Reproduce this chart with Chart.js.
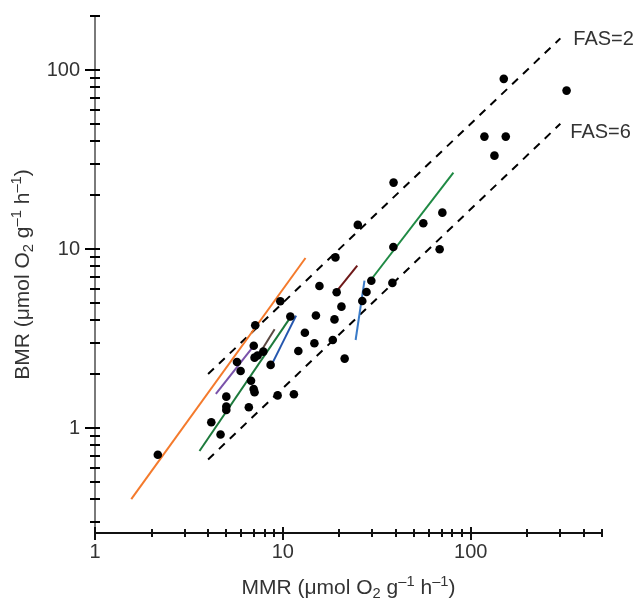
<!DOCTYPE html>
<html>
<head>
    <title>BMR vs MMR</title>
    <script src="https://cdn.jsdelivr.net/npm/chart.js"></script>
    <style>body { margin: 0; background: #fff; }</style>
</head>
<body>
    <canvas id="chart" width="634" height="599"></canvas>

    <script>
        // species values (umol O2 g-1 h-1)
        const mmr = [2.16, 4.16, 4.66, 5.0, 5.0, 5.0, 5.7, 5.96, 6.59, 6.77, 6.99, 7.07,
                     7.0, 7.13, 7.07, 7.34, 7.87, 8.61, 9.38, 11.45, 9.69, 10.96, 12.09, 13.1,
                     14.72, 15.0, 15.66, 18.44, 18.83, 19.05, 19.34, 20.51, 21.33, 26.48, 27.88, 29.58,
                     38.3, 38.75, 25.06, 38.85, 55.94, 68.35, 70.65, 118.3, 133.8, 150.0, 153.7, 323.9];
        const bmr = [0.709, 1.076, 0.92, 1.496, 1.319, 1.26, 2.337, 2.08, 1.305, 1.837, 1.652, 1.583,
                     2.88, 3.75, 2.47, 2.54, 2.67, 2.25, 1.52, 1.543, 5.1, 4.19, 2.69, 3.4,
                     2.97, 4.25, 6.21, 3.1, 4.04, 8.97, 5.73, 4.76, 2.44, 5.12, 5.75, 6.64,
                     6.46, 10.26, 13.62, 23.47, 13.92, 9.96, 15.95, 42.4, 33.2, 89.1, 42.4, 76.6];

        // FAS reference lines, BMR = MMR / FAS
        const fasMMR = [4, 300];
        const fas2BMR = [2, 150];
        const fas6BMR = [0.667, 50];
        const fasLabels = ['FAS=2', 'FAS=6'];

        // within-species fits: start/end MMR and BMR
        const segMMR = [[1.56, 13.2], [4.4, 6.85], [7.56, 9.04], [3.6, 11.2],
                        [8.76, 11.76], [19.6, 24.9], [24.4, 27.2], [29.6, 80.9]];
        const segBMR = [[0.40, 8.9], [1.55, 2.79], [2.63, 3.56], [0.744, 4.28],
                        [2.28, 4.24], [5.9, 8.07], [3.1, 6.65], [6.77, 26.7]];
        const segColors = ['#f47a2c', '#7a52aa', '#5b4841', '#1d7a3c',
                           '#2456ae', '#6e1818', '#3a7bc8', '#1f8a44'];

        // axis ticks
        const xMajor = [1, 10, 100];
        const xMinor = [2, 3, 4, 5, 6, 7, 8, 9, 20, 30, 40, 50, 60, 70, 80, 90, 200, 300, 400, 500];
        const yMajor = [1, 10, 100];
        const yMinor = [0.3, 0.4, 0.5, 0.6, 0.7, 0.8, 0.9, 2, 3, 4, 5, 6, 7, 8, 9,
                        20, 30, 40, 50, 60, 70, 80, 90, 200];

        const FONT = '"Liberation Sans", Arial, sans-serif';
        const TEXT = '#333';

        function toXY(xs, ys) {
            return xs.map((v, i) => ({ x: v, y: ys[i] }));
        }

        const datasets = [];
        [fas2BMR, fas6BMR].forEach((b, i) => {
            datasets.push({
                type: 'line', label: fasLabels[i], data: toXY(fasMMR, b),
                borderColor: '#000', borderWidth: 2, borderDash: [8, 7],
                pointRadius: 0, fill: false, order: 3
            });
        });
        segMMR.forEach((m, i) => {
            datasets.push({
                type: 'line', data: toXY(m, segBMR[i]),
                borderColor: segColors[i], borderWidth: 2,
                pointRadius: 0, fill: false, order: 2
            });
        });
        datasets.push({
            type: 'scatter', data: toXY(mmr, bmr),
            backgroundColor: '#000', borderWidth: 0, pointRadius: 4.3, order: 1
        });

        // text with sub/superscripts
        function richWidth(ctx, parts, size) {
            let w = 0;
            parts.forEach(p => {
                ctx.font = (p.s ? size * 0.7 : size) + 'px ' + FONT;
                w += ctx.measureText(p.t).width;
            });
            return w;
        }
        function drawRich(ctx, parts, size, x0, y0) {
            let x = x0;
            parts.forEach(p => {
                ctx.font = (p.s ? size * 0.7 : size) + 'px ' + FONT;
                let dy = p.s === 'sub' ? size * 0.2 : (p.s === 'sup' ? -size * 0.38 : 0);
                ctx.fillText(p.t, x, y0 + dy);
                x += ctx.measureText(p.t).width;
            });
        }
        const unitParts = [
            { t: ' (\u03bcmol O' }, { t: '2', s: 'sub' }, { t: ' g' }, { t: '\u20131', s: 'sup' },
            { t: ' h' }, { t: '\u20131', s: 'sup' }, { t: ')' }
        ];

        const axesPlugin = {
            id: 'axes',
            afterDraw(chart) {
                const ctx = chart.ctx;
                const a = chart.chartArea;
                const x = chart.scales.x, y = chart.scales.y;
                ctx.save();
                ctx.lineCap = 'butt';

                // y axis
                ctx.strokeStyle = '#7a7a7a';
                ctx.lineWidth = 2;
                ctx.beginPath(); ctx.moveTo(a.left, a.top); ctx.lineTo(a.left, a.bottom); ctx.stroke();
                ctx.strokeStyle = '#000';
                yMinor.forEach(v => {
                    const p = Math.round(y.getPixelForValue(v));
                    ctx.beginPath(); ctx.moveTo(a.left - 5, p); ctx.lineTo(a.left + 5, p); ctx.stroke();
                });
                yMajor.forEach(v => {
                    const p = Math.round(y.getPixelForValue(v));
                    ctx.beginPath(); ctx.moveTo(a.left - 10, p); ctx.lineTo(a.left + 5, p); ctx.stroke();
                });

                // x axis
                ctx.strokeStyle = '#111';
                ctx.beginPath(); ctx.moveTo(a.left, a.bottom); ctx.lineTo(a.right, a.bottom); ctx.stroke();
                xMinor.forEach(v => {
                    const p = Math.round(x.getPixelForValue(v));
                    ctx.beginPath(); ctx.moveTo(p, a.bottom - 4); ctx.lineTo(p, a.bottom + 4); ctx.stroke();
                });
                xMajor.forEach(v => {
                    const p = Math.round(x.getPixelForValue(v));
                    ctx.beginPath(); ctx.moveTo(p, a.bottom - 6); ctx.lineTo(p, a.bottom + 7); ctx.stroke();
                });

                // tick labels
                ctx.fillStyle = TEXT;
                ctx.font = '20px ' + FONT;
                ctx.textAlign = 'right';
                ctx.textBaseline = 'middle';
                yMajor.forEach(v => ctx.fillText(String(v), a.left - 15, y.getPixelForValue(v) + 1));
                ctx.textAlign = 'center';
                ctx.textBaseline = 'top';
                xMajor.forEach(v => ctx.fillText(String(v), x.getPixelForValue(v), a.bottom + 9));

                // FAS labels at the upper end of each dashed line
                ctx.textAlign = 'left';
                ctx.textBaseline = 'middle';
                [fas2BMR, fas6BMR].forEach((b, i) => {
                    const px = x.getPixelForValue(fasMMR[1]);
                    const py = y.getPixelForValue(b[1]);
                    ctx.fillText(fasLabels[i], px + 13 - i * 3, py + 1 + i * 8);
                });

                // axis titles
                ctx.textAlign = 'left';
                ctx.textBaseline = 'alphabetic';
                const xt = [{ t: 'MMR' }].concat(unitParts);
                const wx = richWidth(ctx, xt, 21);
                drawRich(ctx, xt, 21, (a.left + a.right) / 2 - wx / 2, a.bottom + 61);

                const yt = [{ t: 'BMR' }].concat(unitParts);
                const wy = richWidth(ctx, yt, 21);
                ctx.translate(a.left - 66, (a.top + a.bottom) / 2);
                ctx.rotate(-Math.PI / 2);
                drawRich(ctx, yt, 21, -wy / 2, 0);
                ctx.restore();
            }
        };

        new Chart(document.getElementById('chart'), {
            type: 'scatter',
            data: { datasets: datasets },
            options: {
                responsive: false,
                animation: false,
                layout: { padding: { left: 95, right: 32, top: 16, bottom: 66 } },
                scales: {
                    x: { type: 'logarithmic', min: 1, max: 500, display: false },
                    y: { type: 'logarithmic', min: 0.259, max: 200, display: false }
                },
                plugins: { legend: { display: false }, tooltip: { enabled: false } }
            },
            plugins: [axesPlugin]
        });
    </script>
</body>
</html>
